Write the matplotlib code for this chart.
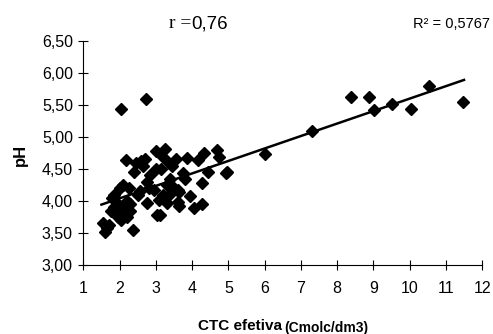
import numpy as np
import matplotlib as mpl
import matplotlib.pyplot as plt

mpl.rc('font', family='Liberation Sans', size=11.5)

# CTC efetiva (x) and pH (y)
ctc = [1.55, 1.60, 1.65, 1.70, 1.75, 1.80, 1.85, 1.90, 1.95, 1.95, 2.00, 2.00, 2.05,
       2.10, 2.15, 2.20, 2.20, 2.25, 2.30, 2.36, 2.17, 2.03, 2.73, 1.85, 2.10, 2.30,
       2.40, 2.45, 2.50, 2.55, 2.60, 2.65, 2.70, 2.75, 2.75, 2.80, 2.85, 2.95, 3.00,
       3.00, 3.02, 3.10, 3.11, 3.15, 3.20, 3.25, 3.20, 3.30, 3.35, 3.35, 3.40, 3.45,
       3.30, 3.50, 3.57, 3.60, 3.65, 3.60, 3.65, 3.75, 3.80, 3.85, 3.94, 4.05, 4.16,
       4.26, 4.26, 4.33, 4.43, 4.69, 4.74, 4.95, 4.93, 6.01, 7.30, 8.38, 8.87, 9.03,
       9.51, 10.04, 10.53, 11.48]
ph = [3.65, 3.52, 3.57, 3.63, 3.85, 4.05, 3.90, 3.82, 3.75, 3.95, 4.20, 3.85, 3.70,
      3.80, 3.90, 4.00, 3.75, 4.20, 3.85, 3.55, 4.64, 5.43, 5.60, 4.10, 4.25, 3.95,
      4.45, 4.60, 4.10, 4.15, 4.62, 4.55, 4.65, 4.30, 3.97, 4.20, 4.40, 4.17, 4.50,
      4.78, 3.78, 4.02, 3.78, 4.50, 4.68, 4.81, 4.10, 3.97, 4.10, 4.60, 4.35, 4.55,
      4.25, 4.20, 4.66, 4.17, 4.14, 3.98, 3.92, 4.44, 4.34, 4.67, 4.08, 3.89, 4.64,
      3.95, 4.28, 4.75, 4.46, 4.80, 4.68, 4.46, 4.44, 4.73, 5.10, 5.63, 5.63, 5.42,
      5.52, 5.43, 5.80, 5.55]

# linear trend shown on the chart
slope, intercept = 0.195, 3.65
r_text = '0,76'
r2_text = '0,5767'

fig = plt.figure(figsize=(4.93, 3.34), dpi=100)
ax = fig.add_axes([0.169, 0.207, 0.809, 0.670])

ax.plot(ctc, ph, 'kD', ms=5.8, mec='k')
xl = np.array([1.5, 11.5])
ax.plot(xl, slope * xl + intercept, 'k-', lw=1.8)

ax.set_xlim(1, 12)
ax.set_ylim(3.0, 6.5)
ax.set_xticks(range(1, 13))
yt = np.arange(3.0, 6.51, 0.5)
ax.set_yticks(yt)
ax.set_yticklabels([f'{v:.2f}'.replace('.', ',') for v in yt])
ax.tick_params(direction='inout', length=7, width=0.8, pad=4, labelsize=11.5)
ax.tick_params(axis='x', pad=8)
for s in ['top', 'right']:
    ax.spines[s].set_visible(False)
for s in ['left', 'bottom']:
    ax.spines[s].set_linewidth(0.8)

fig.text(191, 334 - 24, 'r =', family='Liberation Serif', fontsize=14,
         ha='right', va='center', transform=None)
fig.text(191, 334 - 24, r_text, fontsize=13.5, ha='left', va='center', transform=None)
fig.text(490, 334 - 24, 'R² = ' + r2_text, fontsize=10.5, ha='right', va='center',
         transform=None)

fig.text(20, 334 - 155, 'pH', fontsize=12, fontweight='bold', rotation=90,
         ha='center', va='center', transform=None)
fig.text(282, 334 - 326, 'CTC efetiva', fontsize=11, fontweight='bold',
         ha='right', va='center', transform=None)
fig.text(284, 334 - 328, '(Cmolc/dm3)', fontsize=10, fontweight='bold',
         ha='left', va='center', transform=None)

fig.savefig('out.png', dpi=100)
